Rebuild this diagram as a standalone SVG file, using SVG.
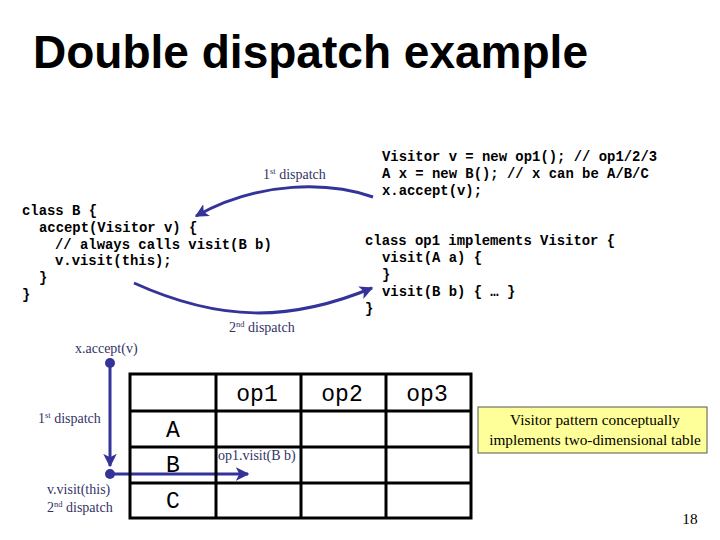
<svg xmlns="http://www.w3.org/2000/svg" width="720" height="540" viewBox="0 0 720 540">
<style>
.title{font-family:"Liberation Sans",Arial,sans-serif;font-weight:bold;font-size:46px;fill:#000}
.code{font-family:"Liberation Mono","Courier New",monospace;font-weight:bold;font-size:13.9px;fill:#000;white-space:pre}
.lbl{font-family:"Liberation Serif","Times New Roman",serif;font-size:14px;fill:#333366}
.cell{font-family:"Liberation Mono","Courier New",monospace;font-size:23px;fill:#000}
.note{font-family:"Liberation Serif","Times New Roman",serif;font-size:15.3px;fill:#000}
.conn{fill:none;stroke:#333399;stroke-width:3}
.grid{stroke:#000;stroke-width:3;fill:none}
</style>
<defs>
<marker id="ah" viewBox="0 0 10 10" refX="9" refY="5" markerWidth="4.5" markerHeight="4.5" orient="auto" markerUnits="strokeWidth">
<path d="M0,0 L10,5 L0,10 L2.5,5 z" fill="#333399"/>
</marker>
</defs>
<rect width="720" height="540" fill="#fff"/>
<text class="title" x="33" y="68" textLength="555" lengthAdjust="spacingAndGlyphs">Double dispatch example</text>

<g id="code-main">
<text class="code" x="382" y="161">Visitor v = new op1(); // op1/2/3</text>
<text class="code" x="382" y="178">A x = new B(); // x can be A/B/C</text>
<text class="code" x="382" y="195">x.accept(v);</text>
</g>
<g id="code-classB">
<text class="code" x="22" y="215">class B {</text>
<text class="code" x="39" y="232">accept(Visitor v) {</text>
<text class="code" x="55" y="249">// always calls visit(B b)</text>
<text class="code" x="55" y="265">v.visit(this);</text>
<text class="code" x="39" y="282">}</text>
<text class="code" x="22" y="299">}</text>
</g>
<g id="code-op1">
<text class="code" x="365" y="245">class op1 implements Visitor {</text>
<text class="code" x="382" y="262">visit(A a) {</text>
<text class="code" x="382" y="279">}</text>
<text class="code" x="382" y="296">visit(B b) { … }</text>
<text class="code" x="365" y="313">}</text>
</g>

<g id="connectors">
<path class="conn" d="M373,197 C330,182 260,180 196,216" marker-end="url(#ah)"/>
<path class="conn" d="M134,283 C220,322 290,322 372,288" marker-end="url(#ah)"/>
<line class="conn" x1="110" y1="363" x2="110" y2="466" marker-end="url(#ah)"/>
<line class="conn" x1="110" y1="474" x2="248" y2="474" marker-end="url(#ah)"/>
<circle cx="110" cy="363" r="5" fill="#333399"/>
<circle cx="110" cy="474" r="5" fill="#333399"/>
</g>

<g id="labels">
<text class="lbl" x="263" y="179">1<tspan font-size="8.5" dy="-5">st</tspan><tspan dy="5"> dispatch</tspan></text>
<text class="lbl" x="229" y="332">2<tspan font-size="8.5" dy="-5">nd</tspan><tspan dy="5"> dispatch</tspan></text>
<text class="lbl" x="75" y="353">x.accept(v)</text>
<text class="lbl" x="38" y="423">1<tspan font-size="8.5" dy="-5">st</tspan><tspan dy="5"> dispatch</tspan></text>
<text class="lbl" x="47" y="494">v.visit(this)</text>
<text class="lbl" x="47" y="512">2<tspan font-size="8.5" dy="-5">nd</tspan><tspan dy="5"> dispatch</tspan></text>
<text class="lbl" x="218" y="460">op1.visit(B b)</text>
</g>

<g id="table">
<rect class="grid" x="130" y="374" width="341" height="144"/>
<line class="grid" x1="216" y1="374" x2="216" y2="518"/>
<line class="grid" x1="301" y1="374" x2="301" y2="518"/>
<line class="grid" x1="386" y1="374" x2="386" y2="518"/>
<line class="grid" x1="130" y1="411" x2="471" y2="411"/>
<line class="grid" x1="130" y1="447" x2="471" y2="447"/>
<line class="grid" x1="130" y1="483" x2="471" y2="483"/>
<text class="cell" x="257" y="401" text-anchor="middle">op1</text>
<text class="cell" x="342" y="401" text-anchor="middle">op2</text>
<text class="cell" x="427" y="401" text-anchor="middle">op3</text>
<text class="cell" x="173" y="437" text-anchor="middle">A</text>
<text class="cell" x="173" y="472" text-anchor="middle">B</text>
<text class="cell" x="173" y="508" text-anchor="middle">C</text>
</g>

<g id="note">
<rect x="478" y="407" width="229" height="46" fill="#ffff99" stroke="#555" stroke-width="1"/>
<text class="note" x="595" y="425" text-anchor="middle">Visitor pattern conceptually</text>
<text class="note" x="595" y="445" text-anchor="middle">implements two-dimensional table</text>
</g>
<text class="note" x="690" y="524" text-anchor="middle" font-size="14">18</text>
</svg>
